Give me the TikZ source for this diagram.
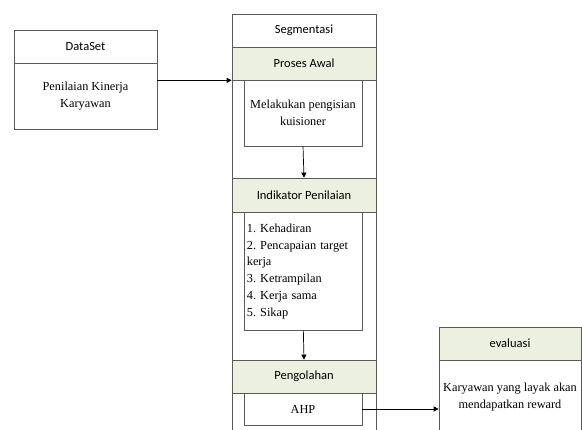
\documentclass[tikz,border=0pt]{standalone}
\usepackage{fontspec}
\setmainfont{Liberation Serif}
\newfontfamily\headfont{Carlito}
\usetikzlibrary{calc, positioning, arrows.meta}
\definecolor{headGreen}{RGB}{235, 241, 222}
\definecolor{lineGray}{RGB}{90, 90, 90}

\tikzset{
  box/.style={draw=lineGray, line width=0.7pt, rectangle, inner sep=2pt, align=center},
  headbox/.style={box, font=\headfont\fontsize{12.5}{14}\selectfont},
  greenbox/.style={headbox, fill=headGreen},
  bodybox/.style={box, fill=white, font=\frenchspacing\fontsize{12.3}{16.8}\selectfont},
  flow/.style={-{Triangle[length=5pt, width=5pt]}, line width=0.7pt, black}
}

\begin{document}
\begin{tikzpicture}[x=1pt, y=-1pt]
  \useasboundingbox (0,0) rectangle (582,430);

  % DataSet block
  \node[headbox, minimum width=143pt, minimum height=33pt] (dsHead) at (85.5, 46.5) {DataSet};
  \node[bodybox, minimum width=143pt, minimum height=66pt] (dsBody) at (85.5, 96) {Penilaian Kinerja\\Karyawan};

  % Segmentasi column
  \draw[lineGray, line width=0.7pt] (232, 440) -- (232, 14) -- (376, 14) -- (376, 440);
  \node[headbox, minimum width=144pt, minimum height=33pt] (segHead) at (304, 30.5) {Segmentasi};
  \node[greenbox, minimum width=144pt, minimum height=33pt] (prosesAwal) at (304, 63.5) {Proses Awal};
  \node[bodybox, minimum width=118pt, minimum height=66pt] (kuis) at (303, 113) {Melakukan pengisian\\kuisioner};
  \node[greenbox, minimum width=144pt, minimum height=34pt] (indikator) at (304, 195) {Indikator Penilaian};
  \node[bodybox, text width=113pt, minimum height=118pt, align=left, anchor=north west, inner sep=2.5pt] (kriteria) at (244, 212)
    {1. Kehadiran\\2. Pencapaian target\\kerja\\3. Ketrampilan\\4. Kerja sama\\5. Sikap};
  \node[greenbox, minimum width=144pt, minimum height=33pt] (pengolahan) at (304, 376.5) {Pengolahan};
  \node[bodybox, minimum width=118pt, minimum height=32pt] (ahp) at (303, 409) {AHP};

  % evaluasi block
  \node[greenbox, minimum width=142pt, minimum height=33pt] (evalHead) at (510, 343.5) {evaluasi};
  \node[bodybox, minimum width=142pt, minimum height=72pt, anchor=north] (evalBody) at (evalHead.south) {Karyawan yang layak akan\\mendapatkan reward};

  % Arrows
  \draw[flow] (dsBody.east |- prosesAwal.south) -- (prosesAwal.south west);
  \draw[flow] (kuis.south) -- (indikator.north);
  \draw[flow] (kriteria.south) -- (pengolahan.north);
  \draw[flow] (ahp.east) -- (ahp.east -| evalBody.west);
\end{tikzpicture}
\end{document}
